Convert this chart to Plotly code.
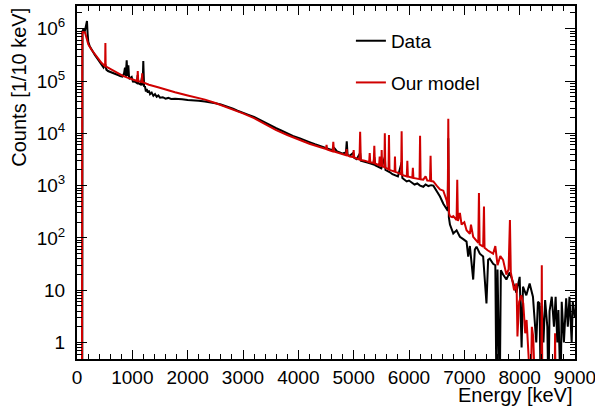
import plotly.graph_objects as go

# ---------------- data ----------------
data_energy_keV = [
    0, 95, 100, 120, 140, 160, 180, 192, 204, 230, 260, 290, 325, 360, 400, 446, 480, 511, 530, 560,
    600, 650, 700, 741, 780, 820, 850, 867, 880, 898, 912, 928, 942, 970, 988, 1010, 1048, 1080, 1097, 1110,
    1150, 1175, 1186, 1198, 1212, 1229, 1245, 1260, 1280, 1300, 1320, 1350, 1380, 1410, 1440, 1470, 1500, 1550, 1600, 1650,
    1700, 1771, 1850, 1900, 2000, 2100, 2200, 2313, 2400, 2500, 2600, 2700, 2760, 2820, 2900, 3000, 3100, 3200, 3300, 3428,
    3500, 3600, 3700, 3800, 3900, 4030, 4100, 4200, 4300, 4400, 4500, 4600, 4650, 4700, 4750, 4800, 4860, 4875, 4890, 4933,
    4990, 5010, 5054, 5117, 5130, 5200, 5280, 5355, 5373, 5390, 5450, 5500, 5563, 5575, 5656, 5700, 5800, 5867, 5880, 5958,
    6000, 6100, 6150, 6200, 6258, 6300, 6350, 6400, 6440, 6500, 6560, 6620, 6680, 6700, 6710, 6720, 6740, 6800, 6860, 6920,
    6980, 7040, 7070, 7100, 7160, 7190, 7220, 7280, 7340, 7400, 7430, 7460, 7520, 7560, 7580, 7600, 7640, 7660, 7700, 7760,
    7820, 7880, 7940, 8000, 8035, 8060, 8120, 8180, 8240, 8300, 8330, 8360, 8380, 8400, 8430, 8460, 8500, 8520, 8540, 8580,
    8620, 8650, 8680, 8700, 8740, 8760, 8800, 8840, 8870, 8900, 8940, 8960, 9000,
]
data_counts = [
    0.1, 0.1, 9.0e5, 1.0e6, 8.8e5, 1.05e6, 1.4e6, 8.0e5, 5.6e5, 4.6e5, 4.0e5, 3.5e5, 3.1e5, 2.75e5, 2.4e5, 2.0e5, 1.8e5, 2.1e5, 1.65e5, 1.55e5,
    1.5e5, 1.42e5, 1.35e5, 1.3e5, 1.25e5, 1.22e5, 1.4e5, 1.8e5, 1.2e5, 2.5e5, 1.25e5, 2.0e5, 1.1e5, 1.15e5, 1.2e5, 9.8e4, 9.7e4, 9.2e4, 1.3e5, 9.0e4,
    8.6e4, 1.2e5, 8.2e4, 2.4e5, 8.0e4, 7.8e4, 6.3e4, 7.0e4, 6.0e4, 6.6e4, 5.6e4, 6.0e4, 5.2e4, 5.6e4, 5.0e4, 5.3e4, 4.8e4, 4.9e4, 4.6e4, 4.75e4,
    4.55e4, 4.6e4, 4.45e4, 4.5e4, 4.35e4, 4.3e4, 4.2e4, 4.05e4, 3.95e4, 3.75e4, 3.55e4, 3.3e4, 3.1e4, 2.95e4, 2.7e4, 2.5e4, 2.25e4, 2.05e4, 1.8e4, 1.55e4,
    1.42e4, 1.25e4, 1.12e4, 1.0e4, 8.9e3, 8.0e3, 7.4e3, 6.8e3, 6.2e3, 5.7e3, 5.3e3, 4.8e3, 5.2e3, 4.5e3, 4.3e3, 4.1e3, 4.3e3, 7.0e3, 3.9e3, 3.75e3,
    4.2e3, 3.4e3, 3.2e3, 4.2e3, 3.0e3, 2.9e3, 2.7e3, 2.55e3, 3.5e3, 2.45e3, 2.3e3, 2.15e3, 3.5e3, 2.0e3, 1.8e3, 1.65e3, 1.5e3, 2.8e3, 1.4e3, 1.2e3,
    1.25e3, 1.05e3, 1.1e3, 1.0e3, 950, 1.05e3, 980, 1.02e3, 1.0e3, 800, 620, 450, 350, 330, 8.0e3, 250, 180, 122, 140, 105,
    95, 85, 44, 70, 16, 60, 68, 50, 44, 5.6, 38, 40, 32, 30, 0.1, 25, 0.1, 24, 20, 16,
    22, 13.5, 9, 18, 0.8, 11.7, 8, 13.5, 7.5, 1.0, 6, 5.6, 0.1, 5, 1.0, 6.5, 2.0, 0.1, 4.0, 7.5,
    2.0, 7.5, 1.0, 4.2, 0.1, 6.0, 1.0, 7.0, 2.0, 7.5, 1.0, 6.0, 3.0,
]

model_energy_keV = [
    0, 90, 95, 145, 175, 204, 260, 325, 400, 446, 500, 508, 513, 518, 560, 650, 741, 830, 922, 1050,
    1090, 1098, 1106, 1170, 1178, 1186, 1300, 1464, 1600, 1771, 2000, 2200, 2313, 2500, 2700, 2820, 3000, 3200, 3428, 3600,
    3800, 4030, 4200, 4400, 4500, 4510, 4520, 4620, 4632, 4644, 4750, 4860, 4873, 4886, 4933, 4990, 5000, 5010, 5054, 5105,
    5117, 5129, 5200, 5280, 5290, 5300, 5362, 5373, 5384, 5460, 5470, 5480, 5500, 5506, 5515, 5555, 5563, 5572, 5630, 5638,
    5647, 5700, 5740, 5746, 5755, 5800, 5858, 5867, 5876, 5960, 5970, 5980, 6060, 6070, 6080, 6190, 6200, 6210, 6258, 6300,
    6330, 6380, 6390, 6400, 6440, 6500, 6560, 6620, 6680, 6700, 6710, 6722, 6740, 6780, 6800, 6860, 6872, 6884, 6920, 6950,
    7000, 7040, 7100, 7120, 7160, 7252, 7264, 7276, 7340, 7355, 7365, 7420, 7520, 7560, 7600, 7650, 7700, 7760, 7800, 7824,
    7840, 7900, 7944, 7960, 7990, 8030, 8065, 8100, 8125, 8200, 8220, 8245, 8280, 8390, 8400, 8410, 8630, 8640, 8650, 9000,
]
model_counts = [
    0.1, 0.1, 8.6e5, 8.5e5, 6.5e5, 5.0e5, 4.0e5, 3.2e5, 2.6e5, 2.2e5, 1.95e5, 1.9e5, 5.3e5, 1.9e5, 1.8e5, 1.6e5, 1.4e5, 1.25e5, 1.15e5, 1.03e5,
    1.0e5, 1.55e5, 9.9e4, 9.6e4, 1.4e5, 9.5e4, 8.5e4, 7.6e4, 6.8e4, 6.1e4, 5.3e4, 4.7e4, 4.4e4, 3.8e4, 3.2e4, 2.8e4, 2.4e4, 1.95e4, 1.45e4, 1.15e4,
    9.3e3, 7.4e3, 6.3e3, 5.4e3, 5.0e3, 6.0e3, 4.9e3, 4.5e3, 6.9e3, 4.5e3, 4.1e3, 3.8e3, 5.0e3, 3.8e3, 3.6e3, 3.5e3, 4.8e3, 3.45e3, 3.3e3, 3.15e3,
    1.07e4, 3.1e3, 3.0e3, 2.8e3, 4.2e3, 2.8e3, 2.7e3, 5.8e3, 2.65e3, 2.45e3, 3.6e3, 2.4e3, 2.4e3, 4.8e3, 2.35e3, 2.25e3, 1.0e4, 2.2e3, 2.05e3, 9.3e3,
    2.0e3, 1.9e3, 1.85e3, 3.6e3, 1.85e3, 1.75e3, 1.65e3, 1.1e4, 1.6e3, 1.5e3, 3.0e3, 1.5e3, 1.42e3, 2.2e3, 1.4e3, 1.33e3, 9.0e3, 1.32e3, 1.3e3, 1.5e3,
    1.25e3, 1.24e3, 3.7e3, 1.22e3, 1.2e3, 1.0e3, 850, 800, 520, 400, 1.9e4, 300, 260, 250, 260, 220, 1.3e3, 210, 300, 180,
    200, 140, 120, 180, 105, 80, 720, 75, 68, 400, 65, 58, 50, 70, 30, 45, 38, 20, 25, 220,
    22, 10, 13.5, 1.3, 6, 8, 5.6, 1.5, 2.7, 0.1, 2, 1.3, 0.1, 0.1, 30, 0.1, 0.1, 1.5, 0.1, 0.1,
]

x_tick_values = [0, 1000, 2000, 3000, 4000, 5000, 6000, 7000, 8000, 9000]
x_tick_labels = ["0", "1000", "2000", "3000", "4000", "5000", "6000", "7000", "8000", "9000"]
y_tick_values = [1, 10, 100, 1e3, 1e4, 1e5, 1e6]
y_tick_labels = ["1", "10", "10<sup>2</sup>", "10<sup>3</sup>", "10<sup>4</sup>", "10<sup>5</sup>", "10<sup>6</sup>"]
series_names = ["Data", "Our model"]

# ---------------- figure ----------------
FONT = "Liberation Sans, Arial, Helvetica, sans-serif"
fig = go.Figure()
fig.add_trace(go.Scatter(x=data_energy_keV, y=data_counts, mode="lines", name=series_names[0],
                         line=dict(color="black", width=2), legendgroup="a"))
fig.add_trace(go.Scatter(x=model_energy_keV, y=model_counts, mode="lines", name=series_names[1],
                         line=dict(color="#d00000", width=2), legendgroup="b"))

minor_y = [m * 10 ** k for k in range(-1, 7) for m in range(2, 10)]

fig.update_layout(
    width=595, height=406,
    margin=dict(l=77, r=20, t=6, b=47, autoexpand=False),
    paper_bgcolor="white", plot_bgcolor="white",
    font=dict(family=FONT, size=19, color="black"),
    showlegend=True,
    legend=dict(x=0.55, y=0.955, xanchor="left", yanchor="top", bgcolor="rgba(0,0,0,0)",
                font=dict(size=19), traceorder="grouped", tracegroupgap=14, itemwidth=30),
    xaxis=dict(range=[0, 9000], tickvals=x_tick_values, ticktext=x_tick_labels,
               ticks="inside", ticklen=9, tickwidth=1, tickcolor="black",
               showline=True, linecolor="black", linewidth=2, mirror="allticks",
               showgrid=False, zeroline=False, tickfont=dict(size=19), automargin=False,
               ticklabeloverflow="allow",
               minor=dict(dtick=200, ticks="inside", ticklen=5, tickwidth=1, tickcolor="black", showgrid=False)),
    yaxis=dict(type="log", range=[-0.315, 6.434], tickvals=y_tick_values, ticktext=y_tick_labels,
               ticks="inside", ticklen=10, tickwidth=1, tickcolor="black",
               showline=True, linecolor="black", linewidth=2, mirror="allticks",
               showgrid=False, zeroline=False, tickfont=dict(size=19), ticklabelstandoff=6, automargin=False,
               ticklabeloverflow="allow",
               minor=dict(tickvals=minor_y, ticks="inside", ticklen=5, tickwidth=1, tickcolor="black", showgrid=False)),
    annotations=[
        dict(text="Counts [1/10 keV]", xref="paper", yref="paper", x=-0.118, y=1.0,
             xanchor="center", yanchor="top", textangle=-90, showarrow=False, font=dict(size=20)),
        dict(text="Energy [keV]", xref="paper", yref="paper", x=1.0, y=-0.139,
             xanchor="right", yanchor="bottom", showarrow=False, font=dict(size=20)),
    ],
)

fig.write_html("out.html", config={"displayModeBar": False},
               post_script="document.body.style.margin='0px';")
